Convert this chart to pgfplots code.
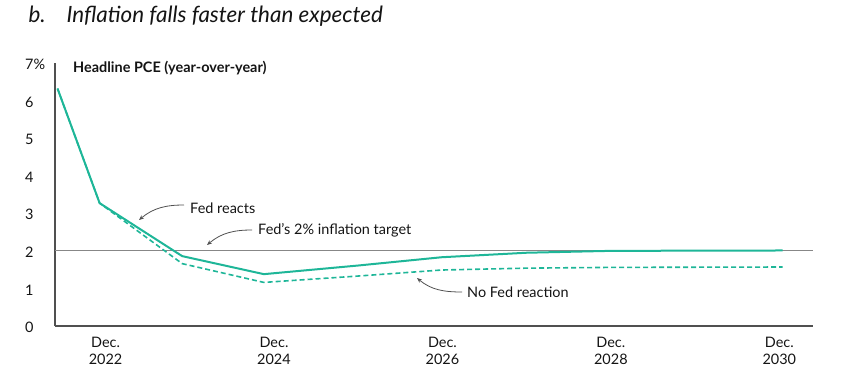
\documentclass[border=0pt]{standalone}
\usepackage{pgfplots}
\pgfplotsset{compat=1.18}
\usepackage{fontspec}
\setmainfont{Lato}
\usetikzlibrary{arrows.meta}
\definecolor{teal1}{RGB}{30,182,152}
\definecolor{axgray}{RGB}{80,80,80}
\definecolor{refgray}{RGB}{135,135,135}
\definecolor{txt}{RGB}{20,20,20}
\begin{document}
\begin{tikzpicture}[x=1bp,y=1bp]
\path[use as bounding box] (0,0) rectangle (848,387);
\begin{axis}[
  at={(55bp,61bp)}, anchor=south west,
  scale only axis, width=758bp, height=263bp,
  xmin=-0.6, xmax=8.4, ymin=0, ymax=7,
  axis x line*=bottom, axis y line*=left,
  axis line style={-, draw=axgray, line width=1.4bp},
  tick style={draw=none},
  xtick={0,2,4,6,8},
  xticklabels={{Dec.\\2022},{Dec.\\2024},{Dec.\\2026},{Dec.\\2028},{Dec.\\2030}},
  xticklabel style={align=center, font=\fontsize{14.5}{17}\selectfont, text=txt, yshift=-8bp},
  ytick={0,1,2,3,4,5,6,7},
  yticklabels={0,1,2,3,4,5,6,7\%},
  yticklabel style={anchor=west, inner sep=0pt, xshift=-30bp, yshift=-1.5bp, font=\fontsize{14.5}{17}\selectfont, text=txt},
  clip=false,
]
\addplot[refgray, line width=1.2bp] coordinates {(-0.6,2) (8.4,2)};
\addplot[teal1, line width=1.6bp, dash pattern=on 5bp off 3bp] coordinates {
(-0.57,6.32) (-0.07,3.27) (0.91,1.66) (1.88,1.16) (3.0,1.33) (3.99,1.49) (5.0,1.54) (6.0,1.56) (8.04,1.57)};
\addplot[teal1, line width=2bp] coordinates {
(-0.57,6.32) (-0.07,3.27) (0.91,1.86) (1.88,1.38) (3.0,1.61) (3.99,1.83) (5.0,1.95) (6.0,2.0) (8.04,2.01)};
\end{axis}
\node[anchor=base west, font=\fontsize{22.5}{26}\selectfont\itshape, text=txt] at (25,365) {b.};
\node[anchor=base west, font=\fontsize{22.5}{26}\selectfont\itshape, text=txt] at (63,365) {Inflation falls faster than expected};
\node[anchor=base west, font=\fontsize{14.5}{17}\selectfont\bfseries, text=txt, inner sep=0pt] at (73,315) {Headline PCE (year-over-year)};
\tikzset{arr/.style={-{Stealth[length=5bp,width=4bp]}, draw=axgray, line width=0.8bp}}
\draw[arr] (184,182) to[out=180,in=40] (139,167);
\node[anchor=west, inner sep=0pt, font=\fontsize{14.5}{17}\selectfont, text=txt] at (190,179) {Fed reacts};
\draw[arr] (252,157) to[out=180,in=40] (207,142);
\node[anchor=west, inner sep=0pt, font=\fontsize{14.5}{17}\selectfont, text=txt] at (258,157) {Fed’s 2\% inflation target};
\draw[arr] (462,95) to[out=180,in=-40] (417,109);
\node[anchor=west, inner sep=0pt, font=\fontsize{14.5}{17}\selectfont, text=txt] at (467,95) {No Fed reaction};
\end{tikzpicture}
\end{document}
